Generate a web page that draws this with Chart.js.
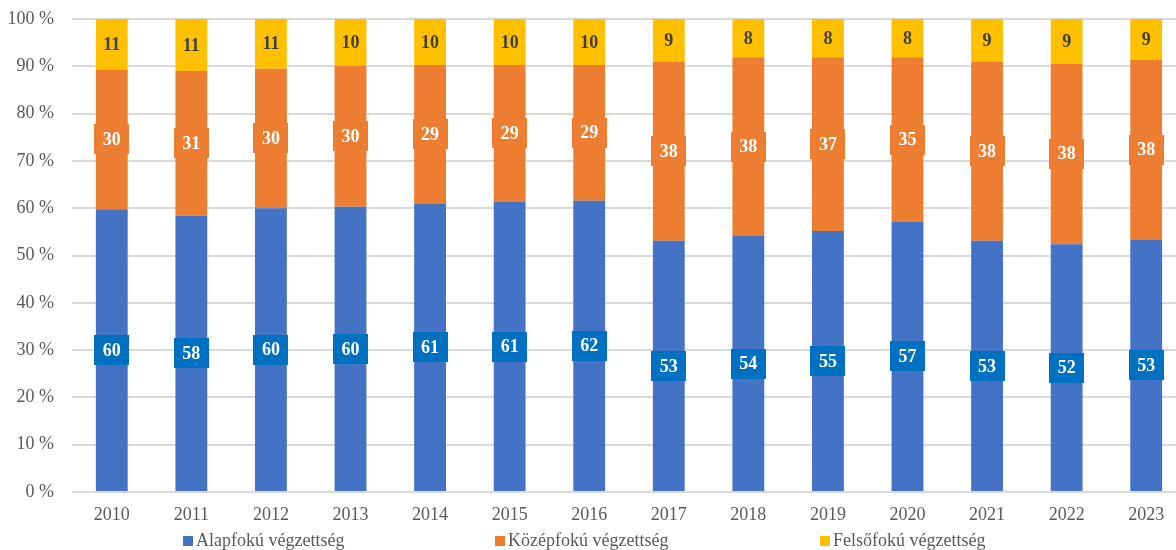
<!DOCTYPE html>
<html>
<head>
<meta charset="utf-8">
<script src="https://cdn.jsdelivr.net/npm/chart.js@4.4.1/dist/chart.umd.min.js"></script>
<style>
  html, body { margin: 0; padding: 0; background: #fff; overflow: hidden; }
  #wrap { width: 1186px; height: 550px; position: relative; }
</style>
</head>
<body>
<div id="wrap"><canvas id="chart"></canvas></div>
<script>
  // years
  var years = ["2010", "2011", "2012", "2013", "2014", "2015", "2016",
               "2017", "2018", "2019", "2020", "2021", "2022", "2023"];

  // shares in %
  var alapfoku   = [59.8, 58.4, 60.0, 60.3, 60.9, 61.3, 61.6, 53.1, 54.1, 55.2, 57.1, 53.1, 52.4, 53.3];
  var kozepfoku  = [29.5, 30.6, 29.5, 29.8, 29.4, 29.0, 28.7, 37.9, 37.8, 36.7, 34.8, 37.9, 38.2, 38.1];
  var felsofoku  = [10.7, 11.0, 10.5,  9.9,  9.7,  9.7,  9.7,  9.0,  8.1,  8.1,  8.1,  9.0,  9.4,  8.6];

  var seriesNames = ["Alapfokú végzettség", "Középfokú végzettség", "Felsőfokú végzettség"];
  var yTicks = [0, 10, 20, 30, 40, 50, 60, 70, 80, 90, 100];

  var SERIF = "'Liberation Serif', 'Times New Roman', serif";

  var barColors = ["#4472C4", "#ED7D31", "#FFC000"];
  var boxColors = ["#0070C0", "#ED7D31", null];
  var textColors = ["#ffffff", "#ffffff", "#404040"];

  // value boxes in the middle of every segment
  var labelPlugin = {
    id: "segLabels",
    afterDatasetsDraw: function(chart) {
      var ctx = chart.ctx;
      ctx.save();
      ctx.font = "bold 18px " + SERIF;
      ctx.textAlign = "center";
      ctx.textBaseline = "middle";
      chart.data.datasets.forEach(function(ds, di) {
        var meta = chart.getDatasetMeta(di);
        meta.data.forEach(function(bar, i) {
          var cy = (bar.y + bar.base) / 2;
          if (boxColors[di]) {
            ctx.fillStyle = boxColors[di];
            ctx.fillRect(Math.round(bar.x - 17.5), Math.round(cy - 15), 35, 30);
          }
          ctx.fillStyle = textColors[di];
          ctx.fillText(String(Math.round(ds.data[i])), bar.x, cy + 1);
        });
      });
      ctx.restore();
    }
  };

  // legend drawn Excel-like under the axis
  var legendPlugin = {
    id: "bottomLegend",
    afterDraw: function(chart) {
      var ctx = chart.ctx;
      var xs = [183, 495, 820];
      ctx.save();
      ctx.font = "18px " + SERIF;
      ctx.textBaseline = "middle";
      ctx.textAlign = "left";
      seriesNames.forEach(function(name, i) {
        ctx.fillStyle = barColors[i];
        ctx.fillRect(xs[i], 536, 10, 10);
        ctx.fillStyle = "#595959";
        ctx.fillText(name, xs[i] + 13, 541);
      });
      ctx.restore();
    }
  };

  var data = {
    labels: years,
    datasets: [
      { label: seriesNames[0], data: alapfoku,  backgroundColor: barColors[0] },
      { label: seriesNames[1], data: kozepfoku, backgroundColor: barColors[1] },
      { label: seriesNames[2], data: felsofoku, backgroundColor: barColors[2] }
    ]
  };

  new Chart(document.getElementById("chart"), {
    type: "bar",
    data: data,
    plugins: [labelPlugin, legendPlugin],
    options: {
      responsive: true,
      maintainAspectRatio: false,
      animation: false,
      devicePixelRatio: 1,
      layout: { padding: { top: 19, left: 0, right: 0, bottom: 0 } },
      datasets: { bar: { barPercentage: 0.4, categoryPercentage: 1.0 } },
      plugins: {
        legend: { display: false },
        tooltip: { enabled: false }
      },
      scales: {
        x: {
          stacked: true,
          grid: { display: false },
          border: { display: false },
          ticks: { color: "#595959", font: { family: SERIF, size: 18 }, padding: 4, maxRotation: 0 },
          afterFit: function(scale) { scale.height = 58; }
        },
        y: {
          stacked: true,
          min: 0,
          max: 100,
          afterBuildTicks: function(scale) {
            scale.ticks = yTicks.map(function(v) { return { value: v }; });
          },
          grid: { color: "#d9d9d9", lineWidth: 2, drawTicks: false },
          border: { display: false },
          ticks: {
            color: "#595959",
            font: { family: SERIF, size: 18 },
            padding: 18,
            callback: function(v) { return v + " %"; }
          },
          afterFit: function(scale) {
            scale.width = 72;
            scale.paddingTop = 0;
            scale.paddingBottom = 0;
          }
        }
      }
    }
  });
</script>
</body>
</html>
